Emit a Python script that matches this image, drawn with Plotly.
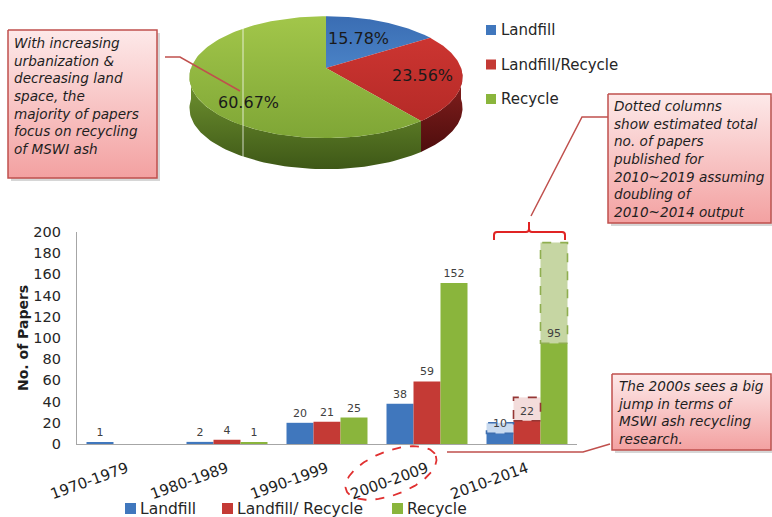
import numpy as np
import plotly.graph_objects as go

# ---------------- data ----------------
categories = ["1970-1979", "1980-1989", "1990-1999", "2000-2009", "2010-2014"]
landfill = [1, 2, 20, 38, 10]
landfill_recycle = [0, 4, 21, 59, 22]
recycle = [0, 1, 25, 152, 95]
# projected 2010~2019 totals (doubling of the 2010~2014 output)
estimate_2010s = [20, 44, 190]

share_names = ["Landfill", "Landfill/Recycle", "Recycle"]
share_values = [15.78, 23.56, 60.67]

y_ticks = list(range(0, 201, 20))

# ---------------- styling ----------------
FONT = "DejaVu Sans"
W, H = 772, 517
BLUE, RED, GREEN = "#4077bd", "#c43a35", "#8ab53c"
EST_FILL = ["#c9daef", "#f3dcdb", "#c6d6a3"]
EST_LINE = ["#3f6fb0", "#953735", "#8fae50"]
CALLOUT = "#c0504d"
BW = 0.27  # bar width in category units

fig = go.Figure()

# ---------------- bar chart ----------------
series = [("Landfill", landfill, BLUE),
          ("Landfill/ Recycle", landfill_recycle, RED),
          ("Recycle", recycle, GREEN)]
idx = np.arange(len(categories))

# estimated extension of the last period, drawn first so value labels stay on top
last = len(categories) - 1
for k, (name, vals, _) in enumerate(series):
    xpos = last + (k - 1) * BW
    fig.add_trace(go.Bar(
        x=[xpos], y=[estimate_2010s[k] - vals[last]], base=[vals[last]],
        width=BW, marker=dict(color=EST_FILL[k], line=dict(width=0)),
        showlegend=False, hoverinfo="skip"))
    fig.add_shape(type="rect", xref="x", yref="y",
                  x0=xpos - BW / 2, x1=xpos + BW / 2,
                  y0=vals[last], y1=estimate_2010s[k],
                  line=dict(color=EST_LINE[k], width=1.6, dash="dash"),
                  fillcolor="rgba(0,0,0,0)", layer="above")

for k, (name, vals, color) in enumerate(series):
    fig.add_trace(go.Bar(
        x=idx + (k - 1) * BW, y=vals, width=BW, name=name,
        marker=dict(color=color, line=dict(width=0)),
        text=[str(v) if v else "" for v in vals], textposition="outside",
        textfont=dict(family=FONT, size=11, color="#404040"),
        cliponaxis=False, showlegend=False))

# ---------------- 3D-looking pie (pixel overlay axes) ----------------
CX, CY, A, B, DEPTH, PERSP = 326.0, 68.0, 135.0, 59.6, 31.0, 0.15


def rim(theta_deg, drop=0.0):
    t = np.radians(theta_deg)
    X, Z = np.sin(t), np.cos(t)
    s = 1.0 / (1.0 + PERSP * Z)
    return CX + A * X * s, CY - B * Z * s + drop


bounds = np.concatenate([[0.0], np.cumsum(share_values) / sum(share_values) * 360.0])
# gradients listed bottom colour first, top colour second
top_grad = [["#4a82c6", "#3a6db3"], ["#b52a27", "#cc3531"], ["#7fa636", "#a2c64a"]]
side_grad = [["#16325a", "#23477a"], ["#4e0d0d", "#8c2220"], ["#3e5817", "#769a33"]]

# side walls (front half only)
for i in range(3):
    a0, a1 = max(bounds[i], 90.0), min(bounds[i + 1], 270.0)
    if a1 <= a0:
        continue
    th = np.linspace(a0, a1, 80)
    xt, yt = rim(th)
    xb, yb = rim(th[::-1], DEPTH)
    fig.add_trace(go.Scatter(
        x=np.concatenate([xt, xb, xt[:1]]), y=np.concatenate([yt, yb, yt[:1]]),
        xaxis="x2", yaxis="y2", mode="lines", line=dict(width=0), fill="toself",
        fillgradient=dict(type="vertical",
                          colorscale=[[0, side_grad[i][0]], [1, side_grad[i][1]]]),
        hoverinfo="skip", showlegend=False))

# top faces
for i in range(3):
    th = np.linspace(bounds[i], bounds[i + 1], 120)
    xs, ys = rim(th)
    fig.add_trace(go.Scatter(
        x=np.concatenate([[CX], xs, [CX]]), y=np.concatenate([[CY], ys, [CY]]),
        xaxis="x2", yaxis="y2", mode="lines", line=dict(width=0), fill="toself",
        fillgradient=dict(type="vertical",
                          colorscale=[[0, top_grad[i][0]], [1, top_grad[i][1]]]),
        hoverinfo="skip", showlegend=False))

pie_label_pos = [(358, 38), (422, 75), (248, 102)]
for (px, py), v in zip(pie_label_pos, share_values):
    fig.add_annotation(x=px, y=py, xref="x2", yref="y2", text=f"{v:.2f}%",
                       showarrow=False, font=dict(family=FONT, size=16, color="#1a1a1a"))

# faint highlight line across the pie
fig.add_shape(type="line", xref="x2", yref="y2", x0=243, x1=243, y0=27, y1=172,
              line=dict(color="rgba(255,255,255,0.75)", width=1))

# pie legend
for j, (name, c) in enumerate(zip(share_names, [BLUE, RED, GREEN])):
    yc = 30 + j * 34.5
    fig.add_shape(type="rect", xref="x2", yref="y2", x0=486, x1=496, y0=yc - 5, y1=yc + 5,
                  fillcolor=c, line=dict(width=0))
    fig.add_annotation(x=499, y=yc, xref="x2", yref="y2", text=name, showarrow=False,
                       xanchor="left", font=dict(family=FONT, size=15, color="#262626"))

# bottom legend for the bars
for name, c, x0 in [("Landfill", BLUE, 125), ("Landfill/ Recycle", RED, 222), ("Recycle", GREEN, 392)]:
    fig.add_shape(type="rect", xref="x2", yref="y2", x0=x0, x1=x0 + 11, y0=503, y1=514,
                  fillcolor=c, line=dict(width=0))
    fig.add_annotation(x=x0 + 13, y=508.5, xref="x2", yref="y2", text=name, showarrow=False,
                       xanchor="left", font=dict(family=FONT, size=15.5, color="#262626"))

# y-axis title
fig.add_annotation(x=23, y=338, xref="x2", yref="y2", text="<b>No. of Papers</b>",
                   textangle=-90, showarrow=False,
                   font=dict(family=FONT, size=14, color="#1e1e1e"))

# ---------------- callout boxes ----------------
def callout(x0, y0, x1, y1, text, tx, ty):
    fig.add_trace(go.Scatter(
        x=[x0 + 3, x1 + 3, x1 + 3, x0 + 3, x0 + 3], y=[y0 + 3, y0 + 3, y1 + 3, y1 + 3, y0 + 3],
        xaxis="x2", yaxis="y2", mode="lines", line=dict(width=0), fill="toself",
        fillcolor="rgba(0,0,0,0.16)", hoverinfo="skip", showlegend=False))
    fig.add_trace(go.Scatter(
        x=[x0, x1, x1, x0, x0], y=[y0, y0, y1, y1, y0],
        xaxis="x2", yaxis="y2", mode="lines", line=dict(color=CALLOUT, width=1.5), fill="toself",
        fillgradient=dict(type="vertical", colorscale=[[0, "#f3a1a1"], [1, "#fde9e9"]]),
        hoverinfo="skip", showlegend=False))
    fig.add_annotation(x=tx, y=ty, xref="x2", yref="y2", text=text, showarrow=False,
                       xanchor="left", yanchor="top", align="left",
                       font=dict(family=FONT, size=13.6, color="#1e1e1e", style="italic"))


callout(8, 30, 157, 178,
        "With increasing<br>urbanization &<br>decreasing land<br>space, the<br>"
        "majority of papers<br>focus on recycling<br>of MSWI ash", 12, 33)
callout(608, 94, 771, 223,
        "Dotted columns<br>show estimated total<br>no. of papers<br>published for<br>"
        "2010~2019 assuming<br>doubling of<br>2010~2014 output", 611, 96)
callout(612, 374, 771, 450,
        "The 2000s sees a big<br>jump in terms of<br>MSWI ash recycling<br>research.", 615, 376)

# pointer lines
for path in ["M165,57 L180,57 L240,91",
             "M608,117 L582,117 L531,216",
             "M447,452 L583,452 L610,444"]:
    fig.add_shape(type="path", xref="x2", yref="y2", path=path,
                  line=dict(color=CALLOUT, width=1.5))

# bracket over the last group
fig.add_shape(type="path", xref="x2", yref="y2",
              path="M494,240 L494,235 Q494,232 497,232 L526,232 Q529,232 529,229 L529,222 "
                   "M529,229 Q529,232 532,232 L562,232 Q565,232 565,235 L565,240",
              line=dict(color="#e02424", width=2))

# dashed ellipse around the 2000-2009 label
t = np.linspace(0, 2 * np.pi, 200)
rot = np.radians(-21)
ex, ey = 48 * np.cos(t), 22 * np.sin(t)
fig.add_trace(go.Scatter(
    x=391 + ex * np.cos(rot) - ey * np.sin(rot), y=473 + ex * np.sin(rot) + ey * np.cos(rot),
    xaxis="x2", yaxis="y2", mode="lines",
    line=dict(color="#e03030", width=1.8, dash="dash"), hoverinfo="skip", showlegend=False))

# ---------------- layout ----------------
fig.update_layout(
    width=W, height=H, margin=dict(l=0, r=0, t=0, b=0, autoexpand=False),
    paper_bgcolor="white", plot_bgcolor="rgba(0,0,0,0)",
    barmode="overlay", showlegend=False,
    font=dict(family=FONT, color="#262626"),
    xaxis=dict(domain=[77 / W, 577 / W], range=[-0.5, 4.5], tickvals=list(idx),
               ticktext=categories, tickangle=-20, showline=True, linecolor="#a6a6a6",
               linewidth=1.2, showgrid=False, zeroline=False, ticks="", automargin=False,
               ticklabelstandoff=9,
               tickfont=dict(family=FONT, size=15, color="#1e1e1e")),
    yaxis=dict(domain=[(H - 444) / H, (H - 232) / H], range=[0, 200], tickvals=y_ticks,
               showline=True, linecolor="#a6a6a6", linewidth=1.2, showgrid=False,
               zeroline=False, ticks="", ticklabelstandoff=12, automargin=False,
               tickfont=dict(family=FONT, size=14.5, color="#262626")),
    xaxis2=dict(domain=[0, 1], range=[0, W], visible=False, anchor="y2", automargin=False),
    yaxis2=dict(domain=[0, 1], range=[H, 0], visible=False, anchor="x2", automargin=False),
)

fig.write_html("out.html")
